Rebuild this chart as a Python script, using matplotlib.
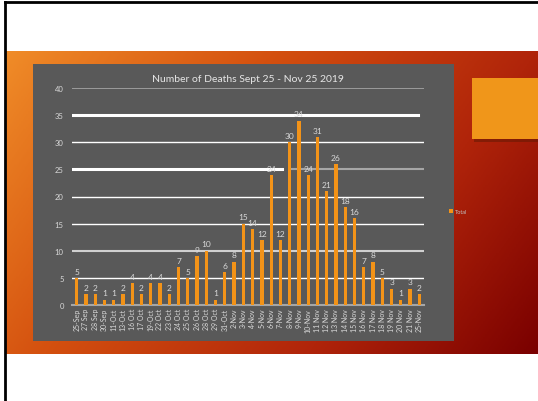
import numpy as np
import matplotlib.pyplot as plt
from matplotlib.patches import Rectangle
from matplotlib.colors import LinearSegmentedColormap

plt.rcParams['font.family'] = ['Lato', 'DejaVu Sans']

dates = ["25-Sep", "27 Sep", "28 Sep", "30-Sep", "11-Oct", "13-Oct", "16 Oct", "17 Oct",
         "19-Oct", "22 Oct", "23 Oct", "24 Oct", "25 Oct", "26 Oct", "28 Oct", "29 Oct",
         "31-Oct", "2-Nov", "3-Nov", "4-Nov", "5-Nov", "6-Nov", "7-Nov", "8-Nov",
         "9-Nov", "10-Nov", "11 Nov", "12 Nov", "13 Nov", "14 Nov", "15 Nov", "16 Nov",
         "17 Nov", "18 Nov", "19 Nov", "20 Nov", "21 Nov", "25-Nov"]
deaths = [5, 2, 2, 1, 1, 2, 4, 2, 4, 4, 2, 7, 5, 9, 10, 1, 6, 8, 15, 14, 12, 24, 12, 30,
          34, 24, 31, 21, 26, 18, 16, 7, 8, 5, 3, 1, 3, 2]
yticks = [0, 5, 10, 15, 20, 25, 30, 35, 40]

W, H = 538, 402
fig = plt.figure(figsize=(W / 100, H / 100), dpi=100, facecolor="white")

# slide background (pixel coordinates)
bg = fig.add_axes([0, 0, 1, 1])
bg.set_xlim(0, W)
bg.set_ylim(H, 0)
bg.axis("off")

gx, gy = np.meshgrid(np.linspace(0, 1, 300), np.linspace(0, 1, 120))
grad = 0.7 * gx + 0.3 * gy
cmap = LinearSegmentedColormap.from_list(
    "slide", [(0, "#F08C28"), (0.35, "#D4500F"), (0.7, "#B0240A"), (1, "#7A0000")])
bg.imshow(grad, cmap=cmap, extent=[5, W, 355, 52], aspect="auto", vmin=0, vmax=1)

bg.add_patch(Rectangle((33, 65), 421, 277, facecolor="#595959", edgecolor="none"))
bg.add_patch(Rectangle((474, 82), 66, 61, facecolor="#6a1a05", edgecolor="none", alpha=0.6))
bg.add_patch(Rectangle((472, 79), 66, 61, facecolor="#F0961A", edgecolor="none"))
bg.plot([5, W], [3, 3], color="black", lw=2)
bg.plot([5, 5], [3, H], color="black", lw=2)
bg.set_xlim(0, W)
bg.set_ylim(H, 0)

# chart
ax = fig.add_axes([72 / W, 1 - 306 / H, 352 / W, 217 / H])
ax.set_facecolor("none")
x = np.arange(len(deaths))
bars = ax.bar(x, deaths, width=0.35, color="#F39318", label="Total", zorder=3)
for xi, v in zip(x, deaths):
    ax.text(xi, v + 0.6, str(v), ha="center", va="bottom", fontsize=6, color="#D9D9D9", zorder=4)

# gridlines
ax.axhline(40, color="#A6A6A6", lw=1.2, zorder=1)
ax.axhline(35, xmax=0.983, color="white", lw=2.2, zorder=1)
ax.axhline(30, color="white", lw=1, zorder=1)
ax.axhline(25, xmax=0.597, color="white", lw=2.2, zorder=1)
ax.axhline(25, xmin=0.619, color="#A6A6A6", lw=1.5, zorder=1)
ax.axhline(20, color="white", lw=1, zorder=1)
ax.axhline(15, color="white", lw=1, zorder=1)
ax.axhline(10, color="#D0D0D0", lw=1.5, zorder=1)
ax.axhline(5, color="white", lw=1, zorder=1)

ax.set_xlim(-0.5, len(deaths) - 0.5)
ax.set_ylim(0, 40)
ax.set_yticks(yticks)
ax.set_yticklabels([str(t) for t in yticks], fontsize=5.5, color="#D9D9D9")
ax.set_xticks(x)
ax.set_xticklabels(dates, rotation=90, fontsize=5, color="#D9D9D9")
ax.tick_params(length=0, pad=6)
ax.tick_params(axis="x", pad=2)
for s in ["top", "right", "left"]:
    ax.spines[s].set_visible(False)
ax.spines["bottom"].set_color("#A6A6A6")
ax.spines["bottom"].set_linewidth(1.5)

ax.set_title("Number of Deaths Sept 25 - Nov 25 2019", fontsize=7.5, color="#E6E6E6", pad=5)

ax.legend(loc="center left", bbox_to_anchor=(444 / W, 1 - 212 / H), bbox_transform=fig.transFigure,
          frameon=False, fontsize=4, labelcolor="#BFBFBF", handlelength=0.7, handleheight=0.7,
          handletextpad=0.4)

fig.savefig("out.png", dpi=100, facecolor="white")
